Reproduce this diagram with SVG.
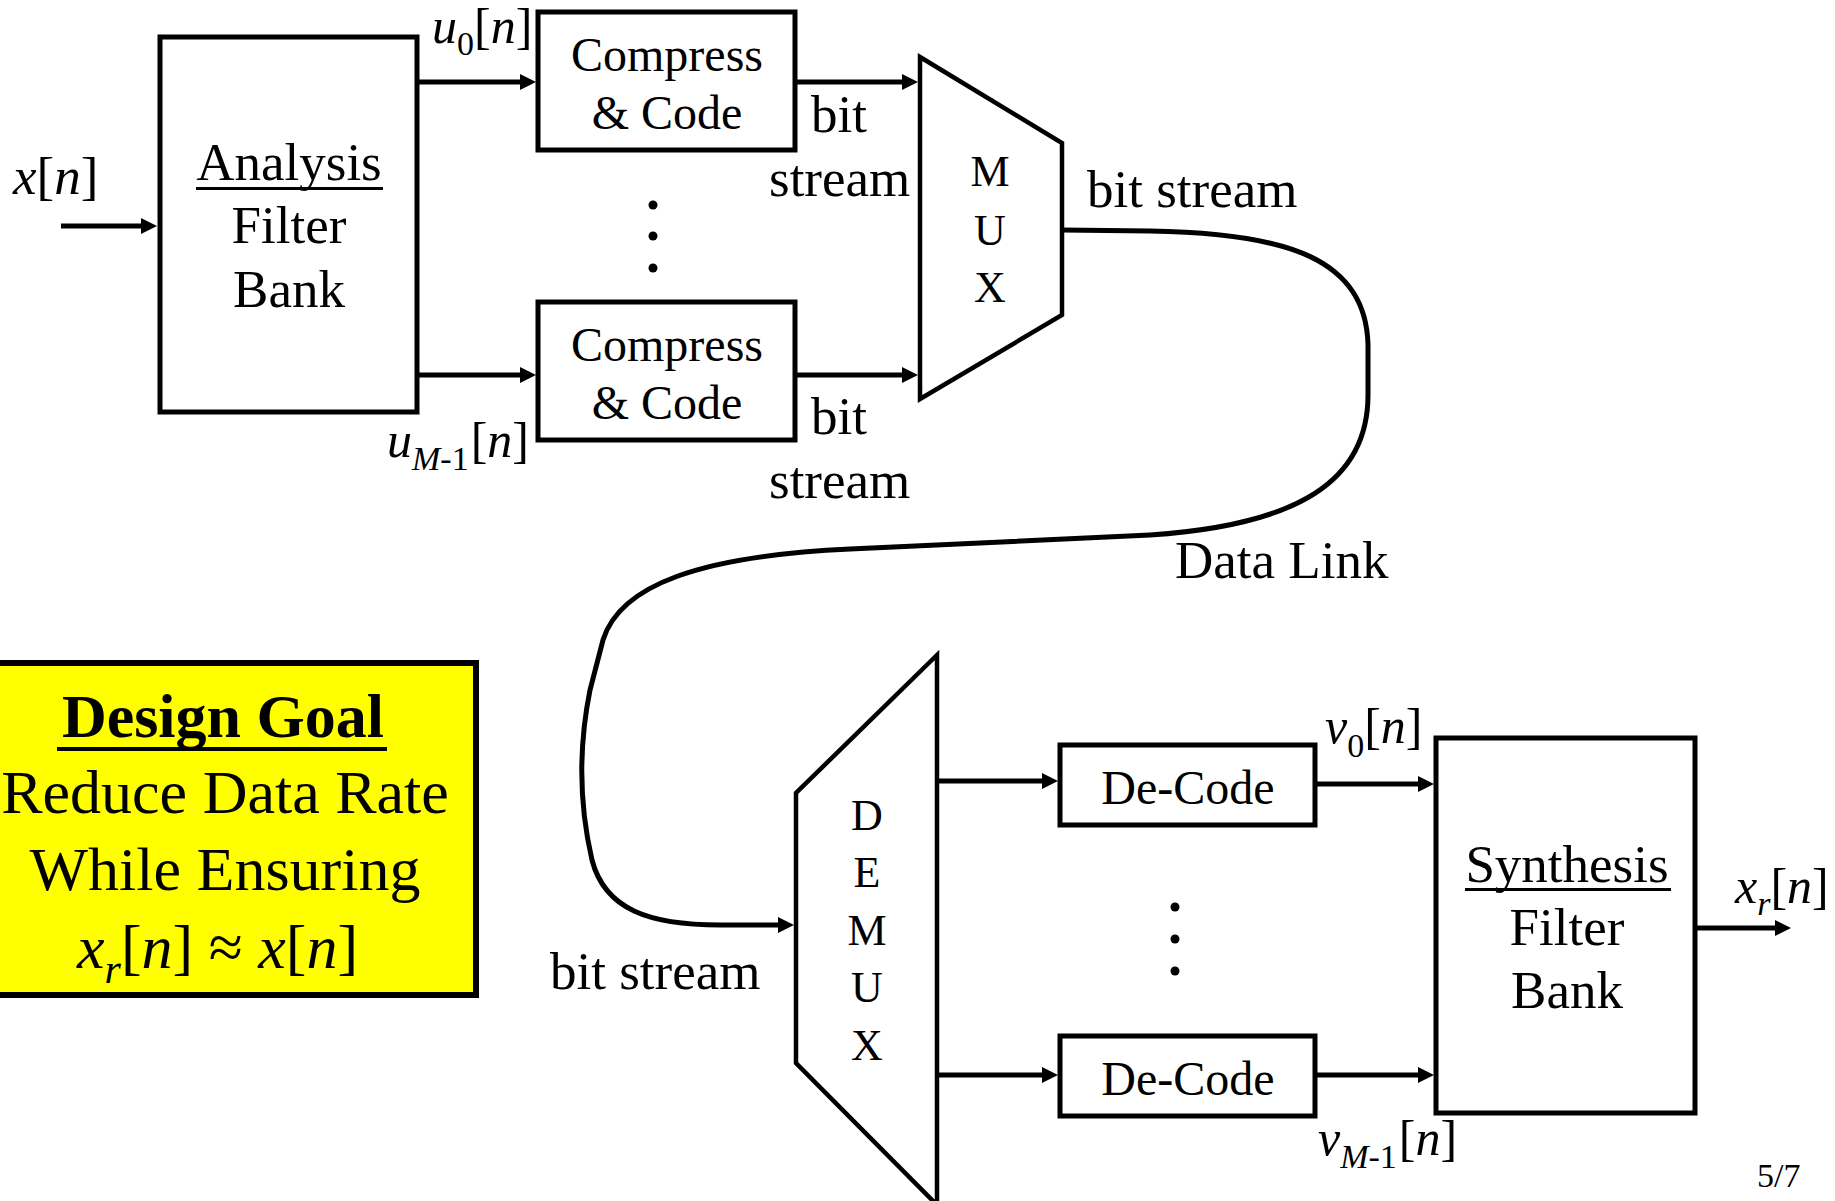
<svg xmlns="http://www.w3.org/2000/svg" width="1835" height="1201" viewBox="0 0 1835 1201">
<defs>
<style>
.box{fill:#fff;stroke:#000;stroke-width:5}
.mux{fill:#fff;stroke:#000;stroke-width:4.5;stroke-linejoin:miter}
.t{font-family:"Liberation Serif","Times New Roman",serif;fill:#000}
.c{text-anchor:middle}
.big{font-size:53px}
.mid{font-size:48px}
.mx{font-size:44px}
.m{font-size:50px}
.i{font-style:italic}
.s{font-size:34px}
.g{font-size:62px}
.gs{font-size:42px}
.conn{stroke:#000;stroke-width:5;fill:none}
</style>
<marker id="ah" viewBox="0 0 16 16" refX="6" refY="8" markerWidth="16" markerHeight="16" markerUnits="userSpaceOnUse" orient="auto">
<path d="M0,0 L16,8 L0,16 z" fill="#000"/>
</marker>
</defs>
<rect width="1835" height="1201" fill="#fff"/>

<g id="connectors">
<path class="conn" d="M61,226 H147" marker-end="url(#ah)"/>
<path class="conn" d="M419,82 H526" marker-end="url(#ah)"/>
<path class="conn" d="M419,375 H526" marker-end="url(#ah)"/>
<path class="conn" d="M795,82 H908" marker-end="url(#ah)"/>
<path class="conn" d="M795,375 H908" marker-end="url(#ah)"/>
<path class="conn" d="M1062,230 L1150,231 C1290,233 1366,260 1368,345 L1368,395 C1368,480 1300,525 1150,535 L850,549 C700,556 620,585 603,640 L590,690 C580,740 578,800 592,860 C605,910 650,925 720,925 L784,925" marker-end="url(#ah)"/>
<path class="conn" d="M937,781 H1048" marker-end="url(#ah)"/>
<path class="conn" d="M937,1075 H1048" marker-end="url(#ah)"/>
<path class="conn" d="M1315,784 H1424" marker-end="url(#ah)"/>
<path class="conn" d="M1315,1075 H1424" marker-end="url(#ah)"/>
<path class="conn" d="M1695,928 H1781" marker-end="url(#ah)"/>
</g>

<g id="input-label">
<text class="t" font-size="53" x="13" y="194"><tspan class="i">x</tspan>[<tspan class="i">n</tspan>]</text>
</g>

<g id="analysis">
<rect class="box" x="160" y="37" width="257" height="375"/>
<text class="t big c" x="289" y="180">Analysis</text>
<rect x="196" y="187" width="187" height="3" fill="#000"/>
<text class="t big c" x="289" y="243">Filter</text>
<text class="t big c" x="289" y="307">Bank</text>
</g>

<g id="u0-label">
<text class="t m" x="432" y="43"><tspan class="i">u</tspan><tspan class="s" dy="12">0</tspan><tspan dy="-12">[</tspan><tspan class="i">n</tspan>]</text>
</g>
<g id="uM1-label">
<text class="t m" x="387" y="457"><tspan class="i">u</tspan><tspan class="s i" dy="13">M</tspan><tspan class="s">-1</tspan><tspan dy="-13" dx="2">[</tspan><tspan class="i">n</tspan>]</text>
</g>

<g id="compress0">
<rect class="box" x="538" y="12" width="257" height="138"/>
<text class="t mid c" x="667" y="71">Compress</text>
<text class="t mid c" x="667" y="129">&amp; Code</text>
</g>
<g id="compress-dots">
<circle cx="653" cy="205" r="4.5"/>
<circle cx="653" cy="236" r="4.5"/>
<circle cx="653" cy="268" r="4.5"/>
</g>
<g id="compressM1">
<rect class="box" x="538" y="302" width="257" height="138"/>
<text class="t mid c" x="667" y="361">Compress</text>
<text class="t mid c" x="667" y="419">&amp; Code</text>
</g>

<g id="bitstream-labels-top">
<text class="t big" x="811" y="132">bit</text>
<text class="t big" x="769" y="196">stream</text>
<text class="t big" x="811" y="434">bit</text>
<text class="t big" x="769" y="498">stream</text>
</g>

<g id="mux">
<polygon class="mux" points="920,57 1062,143 1062,315 920,399"/>
<text class="t mx c" x="990" y="186">M</text>
<text class="t mx c" x="990" y="245">U</text>
<text class="t mx c" x="990" y="302">X</text>
</g>

<g id="link-labels">
<text class="t big" x="1087" y="207">bit stream</text>
<text class="t big" x="1175" y="578">Data Link</text>
<text class="t big" x="550" y="989">bit stream</text>
</g>

<g id="design-goal">
<rect x="-6" y="663" width="482" height="332" fill="#ffff00" stroke="#000" stroke-width="6"/>
<text class="t g c" x="223" y="737" font-weight="bold">Design Goal</text>
<rect x="57" y="747" width="330" height="4" fill="#000"/>
<text class="t g c" x="225" y="813">Reduce Data Rate</text>
<text class="t g c" x="225" y="890">While Ensuring</text>
<text class="t g" x="77" y="968"><tspan class="i">x</tspan><tspan class="gs i" dy="15">r</tspan><tspan dy="-15">[</tspan><tspan class="i">n</tspan>] ≈ <tspan class="i">x</tspan>[<tspan class="i">n</tspan>]</text>
</g>

<g id="demux">
<polygon class="mux" points="937,655 796,793 796,1063 937,1205"/>
<text class="t mx c" x="867" y="830">D</text>
<text class="t mx c" x="867" y="887">E</text>
<text class="t mx c" x="867" y="945">M</text>
<text class="t mx c" x="867" y="1002">U</text>
<text class="t mx c" x="867" y="1060">X</text>
</g>

<g id="decode0">
<rect class="box" x="1060" y="745" width="255" height="80"/>
<text class="t mid c" x="1188" y="804">De-Code</text>
</g>
<g id="decode-dots">
<circle cx="1175" cy="907" r="4.5"/>
<circle cx="1175" cy="939" r="4.5"/>
<circle cx="1175" cy="971" r="4.5"/>
</g>
<g id="decodeM1">
<rect class="box" x="1060" y="1036" width="255" height="80"/>
<text class="t mid c" x="1188" y="1095">De-Code</text>
</g>

<g id="v0-label">
<text class="t m" x="1325" y="743"><tspan class="i">v</tspan><tspan class="s" dy="14">0</tspan><tspan dy="-14">[</tspan><tspan class="i">n</tspan>]</text>
</g>
<g id="vM1-label">
<text class="t m" x="1318" y="1155"><tspan class="i">v</tspan><tspan class="s i" dy="13">M</tspan><tspan class="s">-1</tspan><tspan dy="-13" dx="2">[</tspan><tspan class="i">n</tspan>]</text>
</g>

<g id="synthesis">
<rect class="box" x="1436" y="738" width="259" height="375"/>
<text class="t big c" x="1567" y="882">Synthesis</text>
<rect x="1465" y="888" width="206" height="3" fill="#000"/>
<text class="t big c" x="1567" y="945">Filter</text>
<text class="t big c" x="1567" y="1008">Bank</text>
</g>

<g id="output-label">
<text class="t m" x="1735" y="903"><tspan class="i">x</tspan><tspan class="s i" dy="12">r</tspan><tspan dy="-12">[</tspan><tspan class="i">n</tspan>]</text>
</g>

<g id="page-number">
<text class="t" x="1757" y="1187" font-size="34">5/7</text>
</g>
</svg>
